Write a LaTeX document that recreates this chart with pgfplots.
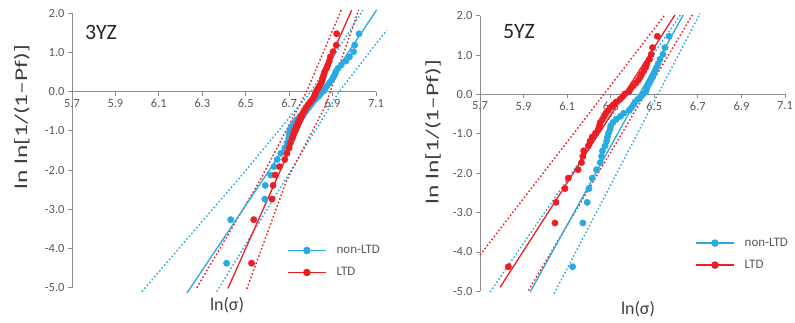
\documentclass[border=0pt]{standalone}
\usepackage{pgfplots}
\pgfplotsset{compat=1.18}
\usepackage{pgfplotstable}
\usepackage{fontspec}
\setmainfont{Carlito}
\definecolor{cblue}{HTML}{29ABE2}
\definecolor{cred}{HTML}{EE1D23}
\definecolor{axgray}{HTML}{8C8C8C}
\definecolor{tkgray}{HTML}{595959}
\definecolor{lbgray}{HTML}{404040}

\pgfplotstableread{
y non ltd
-4.3757 6.412 6.527
-3.2644 6.431 6.537
-2.7405 6.588 6.621
-2.3907 6.590 6.626
-2.1257 6.615 6.636
-1.9111 6.630 6.656
-1.7297 6.645 6.680
-1.5720 6.662 6.690
-1.4317 6.680 6.700
-1.3050 6.690 6.706
-1.1891 6.698 6.714
-1.0818 6.700 6.720
-0.9816 6.703 6.726
-0.8874 6.712 6.733
-0.7981 6.722 6.740
-0.7130 6.735 6.748
-0.6314 6.750 6.755
-0.5527 6.765 6.762
-0.4767 6.778 6.770
-0.4028 6.790 6.778
-0.3307 6.800 6.787
-0.2600 6.810 6.797
-0.1903 6.822 6.808
-0.1216 6.835 6.815
-0.0534 6.845 6.820
0.0146 6.858 6.826
0.0827 6.865 6.833
0.1511 6.875 6.840
0.2204 6.885 6.847
0.2908 6.895 6.852
0.3630 6.903 6.856
0.4375 6.910 6.860
0.5152 6.915 6.864
0.5972 6.925 6.872
0.6852 6.940 6.878
0.7814 6.962 6.885
0.8904 6.978 6.890
1.0198 6.997 6.902
1.1889 7.002 6.917
1.4775 7.022 6.919
}\leftdata

\pgfplotstableread{
y non ltd
-4.3757 6.125 5.830
-3.2644 6.172 6.044
-2.7405 6.192 6.049
-2.3907 6.200 6.090
-2.1257 6.215 6.105
-1.9111 6.235 6.150
-1.7297 6.252 6.166
-1.5720 6.258 6.172
-1.4317 6.262 6.176
-1.3050 6.274 6.197
-1.1891 6.281 6.205
-1.0818 6.285 6.215
-0.9816 6.290 6.230
-0.8874 6.297 6.243
-0.7981 6.300 6.248
-0.7130 6.310 6.252
-0.6314 6.325 6.262
-0.5527 6.345 6.270
-0.4767 6.360 6.278
-0.4028 6.385 6.289
-0.3307 6.396 6.298
-0.2600 6.405 6.312
-0.1903 6.412 6.325
-0.1216 6.425 6.343
-0.0534 6.438 6.355
0.0146 6.450 6.366
0.0827 6.462 6.385
0.1511 6.466 6.392
0.2204 6.470 6.404
0.2908 6.478 6.416
0.3630 6.484 6.427
0.4375 6.492 6.435
0.5152 6.497 6.442
0.5972 6.503 6.452
0.6852 6.510 6.460
0.7814 6.518 6.466
0.8904 6.526 6.478
1.0198 6.540 6.486
1.1889 6.549 6.492
1.4775 6.568 6.514
}\rightdata

\pgfplotsset{
  weib/.style={
    scale only axis,
    xmin=5.7, xmax=7.1, ymin=-5, ymax=2,
    axis x line=middle, axis y line=left,
    hide obscured x ticks=false, hide obscured y ticks=false,
    axis line style={axgray, line width=0.8bp, -},
    xtick={5.7,5.9,6.1,6.3,6.5,6.7,6.9,7.1},
    ytick={-5,-4,-3,-2,-1,0,1,2},
    tick align=outside, major tick length=4bp,
    tick style={axgray, line width=0.8bp},
    every tick label/.append style={font=\fontsize{12.5}{14}\selectfont, text=tkgray},
    /pgf/number format/fixed,
    /pgf/number format/fixed zerofill,
    /pgf/number format/precision=1,
    /pgf/number format/assume math mode=true,
    clip=false,
    legend image code/.code={\draw[mark repeat=2,mark phase=2,##1] plot coordinates {(0bp,0bp) (19bp,0bp) (38bp,0bp)};},
    legend style={draw=none, fill=none, inner sep=0pt,
      font=\fontsize{13}{15}\selectfont, text=tkgray, row sep=9bp,
      nodes={inner sep=1bp, text height=9bp, text depth=2bp},
      /tikz/every odd column/.append style={column sep=9bp}},
    legend cell align=left,
  },
  pts/.style={only marks, mark=*, mark size=3.2bp, forget plot},
  fit/.style={no marks, line width=1.3bp, forget plot},
  band/.style={no marks, line width=1.4bp, dash pattern=on 1.6bp off 2.2bp, forget plot},
}

\begin{document}
\begin{tikzpicture}
\useasboundingbox (0,0) rectangle (795bp,323bp);

% ---------- left: 3YZ ----------
\begin{axis}[weib, at={(72bp,35.3bp)}, anchor=south west,
  width=304bp, height=274.4bp,
  legend style={at={(0.707,0.0955)}, anchor=west}]
\addplot[band, cblue] coordinates {(6.022,-5.1) (6.473,-2.19) (6.80,0) (7.04,2.08)};
\addplot[band, cblue] coordinates {(6.367,-5.1) (6.93,0) (7.149,1.57)};
\addplot[band, cred] coordinates {(6.275,-5.0) (6.565,-2.27) (6.78,0) (6.94,2.08)};
\addplot[band, cred] coordinates {(6.505,-5.03) (6.688,-2.27) (6.864,-0.4) (7.02,2.08)};
\addplot[fit, cblue] coordinates {(6.229,-5.14) (7.103,2.085)};
\addplot[fit, cred] coordinates {(6.418,-5.02) (6.988,2.08)};
\addplot[pts, cblue] table[x=non, y=y] {\leftdata};
\addplot[pts, cred] table[x=ltd, y=y] {\leftdata};
\addlegendimage{color=cblue, line width=1.5bp, mark=*, mark size=3bp}
\addlegendentry{non-LTD}
\addlegendimage{color=cred, line width=1.5bp, mark=*, mark size=3bp}
\addlegendentry{LTD}
\end{axis}

% ---------- right: 5YZ ----------
\begin{axis}[weib, at={(480bp,31.7bp)}, anchor=south west,
  width=305bp, height=275.6bp,
  legend style={at={(0.705,0.135)}, anchor=west}]
\addplot[band, cred] coordinates {(5.700,-4.08) (6.549,2.02)};
\addplot[band, cred] coordinates {(5.922,-4.98) (6.679,2.06)};
\addplot[band, cblue] coordinates {(5.746,-5.02) (6.62,2.02)};
\addplot[band, cblue] coordinates {(6.040,-5.06) (6.71,2.06)};
\addplot[fit, cred] coordinates {(5.792,-4.9) (6.595,2.02)};
\addplot[fit, cblue] coordinates {(5.930,-5.02) (6.633,2.02)};
\addplot[pts, cblue] table[x=non, y=y] {\rightdata};
\addplot[pts, cred] table[x=ltd, y=y] {\rightdata};
\addlegendimage{color=cblue, line width=1.5bp, mark=*, mark size=3bp}
\addlegendentry{non-LTD}
\addlegendimage{color=cred, line width=1.5bp, mark=*, mark size=3bp}
\addlegendentry{LTD}
\end{axis}

% titles and axis labels
\node[font=\fontsize{22}{25}\selectfont, text=black!85] at (101bp,291bp) {3YZ};
\node[font=\fontsize{22}{25}\selectfont, text=black!85] at (519bp,291bp) {5YZ};
\node[font=\fontsize{18}{20}\selectfont, text=lbgray] at (227bp,18bp) {ln(σ)};
\node[font=\fontsize{18}{20}\selectfont, text=lbgray] at (638bp,14bp) {ln(σ)};
\node[font=\fontsize{18}{20}\selectfont, text=lbgray, rotate=90, xscale=1.42] at (21.7bp,206bp) {ln ln[1/(1--Pf)]};
\node[font=\fontsize{18}{20}\selectfont, text=lbgray, rotate=90, xscale=1.42] at (433bp,191bp) {ln ln[1/(1--Pf)]};
\end{tikzpicture}
\end{document}
